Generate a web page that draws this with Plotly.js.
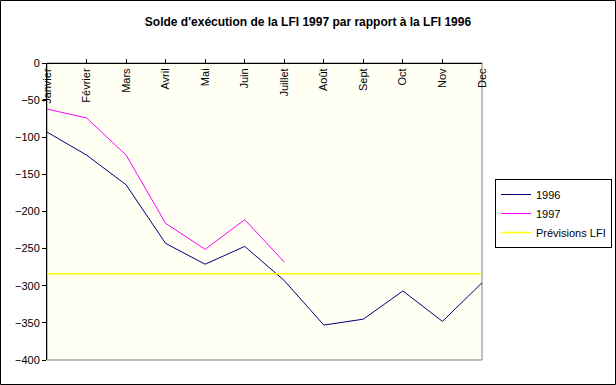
<!DOCTYPE html>
<html><head><meta charset="utf-8">
<script src="https://cdn.plot.ly/plotly-3.0.1.min.js"></script>
<style>body{margin:0;background:#fff}#c{width:616px;height:385px}</style>
</head><body><div id="c"></div>
<script>
var months = ["Janvier","Février","Mars","Avril","Mai","Juin","Juillet","Août","Sept","Oct","Nov","Dec"];
var s1996 = [-93,-124,-164,-243,-271,-247,-293,-353,-345,-307,-348,-296];
var s1997 = [-62,-74,-124,-216,-251,-211,-268];
var prevision = -284;
var prevVals = months.map(function(){return prevision;});

var font = "Arial, 'Liberation Sans', sans-serif";
var traces = [
  {x: months, y: s1996, name: "1996", type: "scatter", mode: "lines", line: {color: "#000080", width: 1}},
  {x: months.slice(0, s1997.length), y: s1997, name: "1997", type: "scatter", mode: "lines", line: {color: "#FF00FF", width: 1}},
  {x: months, y: prevVals, name: "Prévisions LFI", type: "scatter", mode: "lines", line: {color: "#FFFF00", width: 1.5}}
];
var layout = {
  width: 616, height: 385,
  margin: {l: 47, r: 134, t: 63, b: 25, autoexpand: false},
  paper_bgcolor: "#ffffff", plot_bgcolor: "#FFFFF4",
  font: {family: font, size: 11, color: "#000"},
  title: {text: "Solde d'exécution de la LFI 1997 par rapport à la LFI 1996", font: {family: font, size: 12, color: "#000", weight: "bold"}, x: 0.5, xref: "container", y: 1 - 22/385, yref: "container", yanchor: "middle"},
  xaxis: {type: "category", side: "bottom", anchor: "free", position: 1, range: [0, 11], showgrid: false, zeroline: false,
    showline: true, linecolor: "#000", linewidth: 1, ticks: "inside", ticklen: 4, tickcolor: "#000",
    tickangle: -90, tickfont: {family: font, size: 11}, automargin: false, fixedrange: true},
  yaxis: {range: [-400, 0], dtick: 50, showgrid: false, zeroline: false, showline: true, linecolor: "#000", linewidth: 1,
    ticks: "outside", ticklen: 4, tickcolor: "#000", tickfont: {family: font, size: 11}, automargin: false, fixedrange: true},
  showlegend: true,
  legend: {x: (495-47)/435, xanchor: "left", y: (360-179)/297, yanchor: "top", bordercolor: "#000", borderwidth: 1,
    bgcolor: "#fff", font: {family: font, size: 11}, itemwidth: 30, tracegroupgap: 0},
  shapes: [
    {type: "rect", xref: "paper", yref: "paper", x0: 0, x1: 1, y0: 0, y1: 1, line: {color: "#808080", width: 1}, layer: "below"},
    {type: "rect", xref: "paper", yref: "paper", x0: (0.5-47)/435, x1: (615.5-47)/435, y0: (360-384.5)/297, y1: (360-0.5)/297, line: {color: "#000", width: 1}}
  ]
};
Plotly.newPlot("c", traces, layout, {displayModeBar: false, staticPlot: true});
</script></body></html>
